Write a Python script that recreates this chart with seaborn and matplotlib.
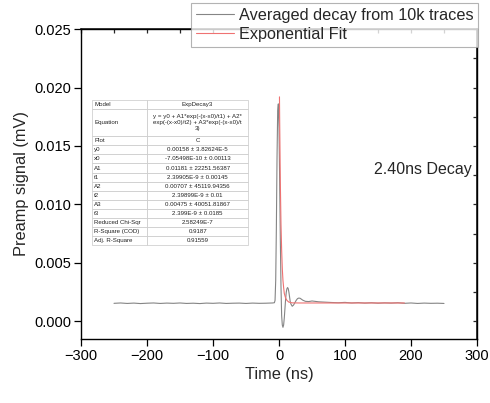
import pandas as pd
import matplotlib.pyplot as plt
import matplotlib.ticker as mticker
import seaborn as sns

# --- data ---
avg_time = [-250, -240, -230, -220, -210, -200, -190, -180, -170, -160,
            -150, -140, -130, -120, -110, -100, -90, -80, -70, -60,
            -50, -40, -30, -20, -10, -7, -6, -5, -4, -3, -2, -1, 0,
            1, 2, 3, 4, 5, 6, 7, 8, 9, 10, 11, 12, 13, 14, 15, 16, 17,
            18, 20, 22, 24, 26, 28, 30, 32, 34, 36, 40, 45, 50,
            60, 70, 80, 90, 100, 110, 120, 130, 140, 150, 160, 170,
            180, 190, 200, 210, 220, 230, 240, 250]
avg_signal = [0.00155, 0.00158, 0.00154, 0.00157, 0.00153, 0.00156, 0.00158, 0.00154, 0.00157, 0.00155,
              0.00158, 0.00154, 0.00156, 0.00153, 0.00157, 0.00155, 0.00158, 0.00154, 0.00156, 0.00157,
              0.00154, 0.00157, 0.00155, 0.00156, 0.00158, 0.00160, 0.00180, 0.00350, 0.00800, 0.01400,
              0.01800, 0.01860, 0.01650,
              0.01200, 0.00700, 0.00300, 0.00050, -0.00030, -0.00050, -0.00030, 0.00030, 0.00110, 0.00190,
              0.00250, 0.00280, 0.00290, 0.00280, 0.00250, 0.00210, 0.00170,
              0.00150, 0.00130, 0.00140, 0.00160, 0.00180, 0.00195, 0.00200, 0.00198, 0.00190, 0.00182,
              0.00172, 0.00170, 0.00175,
              0.00168, 0.00165, 0.00162, 0.00160, 0.00163, 0.00158, 0.00161, 0.00157, 0.00160, 0.00156,
              0.00159, 0.00157, 0.00160, 0.00155, 0.00158, 0.00154, 0.00157, 0.00155, 0.00156, 0.00154]

fit_time = [0.7, 1, 2, 3, 4, 5, 6, 7, 8, 10, 12, 15, 20, 30, 50, 80, 120, 160, 190]
fit_signal = [0.01920, 0.01720, 0.01190, 0.00830, 0.00610, 0.00450, 0.00350, 0.00290, 0.00240,
              0.00200, 0.00180, 0.00165, 0.00159, 0.00158, 0.00158, 0.00158, 0.00158, 0.00158, 0.00158]

table_keys = ['Model', 'Equation', 'Plot', 'y0', 'x0', 'A1', 't1', 'A2', 't2', 'A3', 't3',
              'Reduced Chi-Sqr', 'R-Square (COD)', 'Adj. R-Square']
table_vals = ['ExpDecay3',
              'y = y0 + A1*exp(-(x-x0)/t1) + A2*\nexp(-(x-x0)/t2) + A3*exp(-(x-x0)/t\n3)',
              'C', '0.00158 \u00b1 3.82624E-5', '-7.05498E-10 \u00b1 0.00113',
              '0.01181 \u00b1 22251.56387', '2.39905E-9 \u00b1 0.00145',
              '0.00707 \u00b1 45119.94356', '2.39899E-9 \u00b1 0.01',
              '0.00475 \u00b1 40051.81867', '2.399E-9 \u00b1 0.0185',
              '2.58249E-7', '0.9187', '0.91559']

df_avg = pd.DataFrame({'t': avg_time, 'v': avg_signal})
df_fit = pd.DataFrame({'t': fit_time, 'v': fit_signal})

sns.set_theme(style='white')
plt.rcParams['font.family'] = ['Liberation Sans', 'DejaVu Sans']

fig = plt.figure(figsize=(4.9, 4.03), dpi=100)
ax = fig.add_axes([0.1653, 0.1588, 0.8082, 0.7692])

sns.lineplot(data=df_avg, x='t', y='v', ax=ax, color='#858585', linewidth=0.8,
             estimator=None, label='Averaged decay from 10k traces')
sns.lineplot(data=df_fit, x='t', y='v', ax=ax, color='#ef7272', linewidth=0.8,
             estimator=None, label='Exponential Fit')

ax.set_xlim(-300, 300)
ax.set_ylim(-0.0015, 0.025)
ax.xaxis.set_major_locator(mticker.MultipleLocator(100))
ax.xaxis.set_minor_locator(mticker.MultipleLocator(50))
ax.yaxis.set_major_locator(mticker.MultipleLocator(0.005))
ax.yaxis.set_minor_locator(mticker.MultipleLocator(0.0025))
ax.yaxis.set_major_formatter(mticker.FormatStrFormatter('%.3f'))
ax.tick_params(which='both', direction='out', colors='black', labelsize=10.5, width=0.9)
ax.tick_params(which='major', length=5)
ax.tick_params(which='minor', length=3)
ax.tick_params(axis='both', bottom=True, left=True, pad=2)
for s in ax.spines.values():
    s.set_color('black')
    s.set_linewidth(1.0)

# inward ticks on top and right
top = ax.secondary_xaxis('top')
top.xaxis.set_major_locator(mticker.MultipleLocator(50))
top.tick_params(direction='in', length=3, labeltop=False, width=0.9)
right = ax.secondary_yaxis('right')
right.yaxis.set_major_locator(mticker.MultipleLocator(0.0025))
right.tick_params(direction='in', length=3, labelright=False, width=0.9)

ax.set_xlabel('Time (ns)', fontsize=11.8, labelpad=3)
ax.set_ylabel('Preamp signal (mV)', fontsize=11.8, labelpad=4)

ax.text(144, 0.013, '2.40ns Decay', fontsize=11.5, va='center', ha='left')

leg = ax.legend(loc='upper right', bbox_to_anchor=(478 / 490, 1 - 3 / 403),
                bbox_transform=fig.transFigure, borderaxespad=0, fontsize=11.7,
                frameon=True, fancybox=False, handlelength=2.3, handletextpad=0.3,
                labelspacing=0.24, borderpad=0.3)
leg.get_frame().set_edgecolor('#a0a0a0')
leg.get_frame().set_linewidth(0.8)
leg.set_zorder(10)

# fit results table
cells = [[k, v] for k, v in zip(table_keys, table_vals)]
tab = ax.table(cellText=cells, colWidths=[0.353, 0.647],
               bbox=[0.028, 0.303, 0.394, 0.468], zorder=5)
tab.auto_set_font_size(False)
tab.set_fontsize(4.4)
for (r, c), cell in tab.get_celld().items():
    cell.set_edgecolor('#c8c8c8')
    cell.set_linewidth(0.5)
    cell.set_facecolor('white')
    cell.set_height(3 if r == 1 else 1)
    cell.get_text().set_color('#222222')
    if c == 0:
        cell.get_text().set_ha('left')
        cell.PAD = 0.04
    else:
        cell.get_text().set_ha('center')

fig.savefig('out.png', dpi=100)
